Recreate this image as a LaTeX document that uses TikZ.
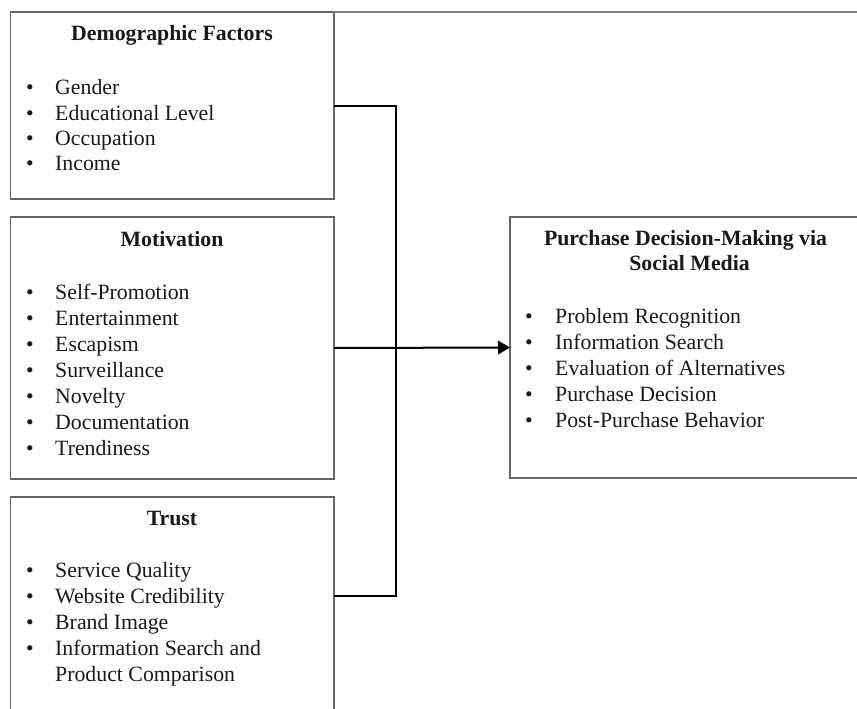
\documentclass[tikz,border=0pt]{standalone}
\usepackage{fontspec}
\setmainfont{Liberation Serif}
\usetikzlibrary{arrows.meta}
\begin{document}
\begin{tikzpicture}[x=1pt,y=-1pt,
  box/.style={draw=black!60, line width=1.2pt, rectangle, inner sep=0pt, outer sep=0pt, anchor=north west},
  itemtext/.style={font=\fontsize{21.8}{26}\selectfont, inner sep=0pt, anchor=base west, text=black!90},
  bul/.style={font=\fontsize{21.8}{26}\selectfont, inner sep=0pt, anchor=base, text=black!90},
  head/.style={font=\fontsize{21.8}{26}\selectfont\bfseries, inner sep=0pt, anchor=base, text=black!90},
  conn/.style={draw=black, line width=2pt},
  topline/.style={draw=black!50, line width=1.5pt}
  ]
\path[use as bounding box, clip] (0,0) rectangle (857,709);
\fill[white] (0,0) rectangle (857,709);

% boxes
\node[box, minimum width=323.3pt, minimum height=187pt] (d) at (10.7,12) {};
\node[box, minimum width=323.3pt, minimum height=262pt] (m) at (10.7,217) {};
\node[box, minimum width=323.3pt, minimum height=240pt] (t) at (10.7,497) {};
\node[box, minimum width=360pt, minimum height=261pt] (p) at (510,217) {};
\coordinate (edge) at (857,12);
\draw[topline] (d.north east) -- (edge);

% Demographic Factors
\node[head] (dh) at (172,41) {Demographic Factors};
\foreach \s [count=\i] in {Gender, Educational Level, Occupation, Income} {
  \node[bul] (db\i) at (30, {95+(\i-1)*25.3}) {\textbullet};
  \node[itemtext] (di\i) at (55, {95+(\i-1)*25.3}) {\s};
}

% Motivation
\node[head] (mh) at (172,246.5) {Motivation};
\foreach \s [count=\i] in {Self-Promotion, Entertainment, Escapism, Surveillance, Novelty, Documentation, Trendiness} {
  \node[bul] (mb\i) at (30, {299+(\i-1)*26}) {\textbullet};
  \node[itemtext] (mi\i) at (55, {299+(\i-1)*26}) {\s};
}

% Trust
\node[head] (th) at (172,525) {Trust};
\foreach \s [count=\i] in {Service Quality, Website Credibility, Brand Image, Information Search and} {
  \node[bul] (tb\i) at (30, {577+(\i-1)*26}) {\textbullet};
  \node[itemtext] (ti\i) at (55, {577+(\i-1)*26}) {\s};
}
\node[itemtext] (ti5) at (55, 681.5) {Product Comparison};

% Purchase Decision-Making
\node[head] (ph1) at (685.5,245) {Purchase Decision-Making via};
\node[head] (ph2) at (689.5,270) {Social Media};
\foreach \s [count=\i] in {Problem Recognition, Information Search, Evaluation of Alternatives, Purchase Decision, Post-Purchase Behavior} {
  \node[bul] (pb\i) at (529, {323+(\i-1)*26}) {\textbullet};
  \node[itemtext] (pi\i) at (555, {323+(\i-1)*26}) {\s};
}

% connectors
\coordinate (tc) at (t.north east |- 0,596);
\coordinate (bus) at (396,0);
\draw[conn] (d.east) -| (bus |- tc) -- (tc);
\draw[conn, -{Triangle[length=12pt,width=13.5pt]}] (m.east) -- (p.west);
\end{tikzpicture}
\end{document}
